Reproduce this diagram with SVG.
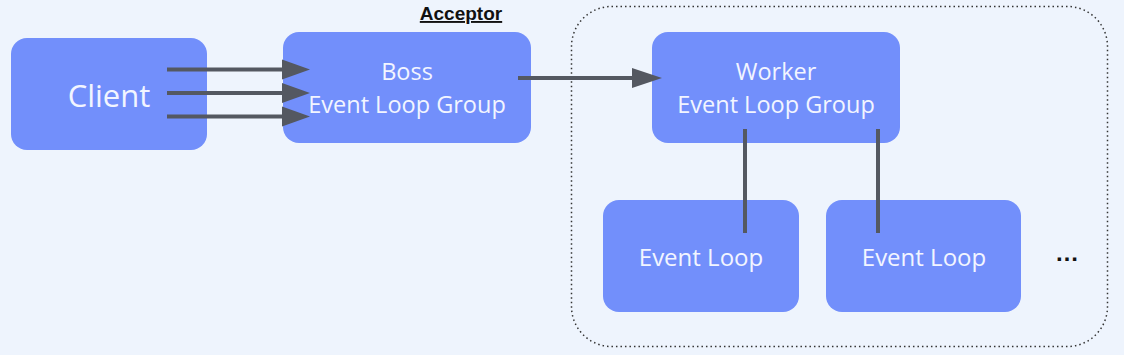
<svg xmlns="http://www.w3.org/2000/svg" width="1124" height="355" viewBox="0 0 1124 355">
<style>
.box{fill:#728ffb;}
.lbl{font-family:"Open Sans","Noto Sans",sans-serif;fill:#f2f5ff;text-anchor:middle;}
.conn{stroke:#545861;stroke-width:4;fill:none;}
.head{fill:#545861;}
</style>
<rect width="1124" height="355" fill="#eef4fd"/>
<rect x="571.5" y="6.5" width="536" height="340" rx="40" fill="none" stroke="#333" stroke-width="1.5" stroke-dasharray="1.5 3"/>
<text x="461" y="20" font-family="Liberation Sans,Arial,sans-serif" font-weight="bold" font-size="19" text-anchor="middle" text-decoration="underline" fill="#111">Acceptor</text>
<g id="client"><rect class="box" x="11" y="38" width="196" height="112" rx="16"/><text class="lbl" x="109" y="107" font-size="31">Client</text></g>
<g id="boss"><rect class="box" x="283" y="32" width="248" height="111" rx="16"/><text class="lbl" x="407" y="80" font-size="23.5">Boss</text><text class="lbl" x="407" y="113" font-size="23.5">Event Loop Group</text></g>
<g id="worker"><rect class="box" x="652" y="32" width="248" height="111" rx="16"/><text class="lbl" x="776" y="80" font-size="23.5">Worker</text><text class="lbl" x="776" y="113" font-size="23.5">Event Loop Group</text></g>
<g id="loop1"><rect class="box" x="603" y="200" width="196" height="112" rx="16"/><text class="lbl" x="701" y="266" font-size="24">Event Loop</text></g>
<g id="loop2"><rect class="box" x="826" y="200" width="195" height="112" rx="16"/><text class="lbl" x="924" y="266" font-size="24">Event Loop</text></g>
<text x="1067" y="261" font-family="Liberation Sans,Arial,sans-serif" font-weight="bold" font-size="24" text-anchor="middle" fill="#111">…</text>
<g id="connectors">
<line class="conn" x1="167" y1="69.5" x2="284" y2="69.5"/><polygon class="head" points="282,59.5 310,69.5 282,79.5"/>
<line class="conn" x1="167" y1="93" x2="284" y2="93"/><polygon class="head" points="282,83 310,93 282,103"/>
<line class="conn" x1="167" y1="116.5" x2="284" y2="116.5"/><polygon class="head" points="282,106.5 310,116.5 282,126.5"/>
<line class="conn" x1="518" y1="78" x2="634" y2="78"/><polygon class="head" points="632,68 662,78 632,88"/>
<line class="conn" x1="745" y1="129" x2="745" y2="233"/>
<line class="conn" x1="878" y1="129" x2="878" y2="233"/>
</g>
</svg>
